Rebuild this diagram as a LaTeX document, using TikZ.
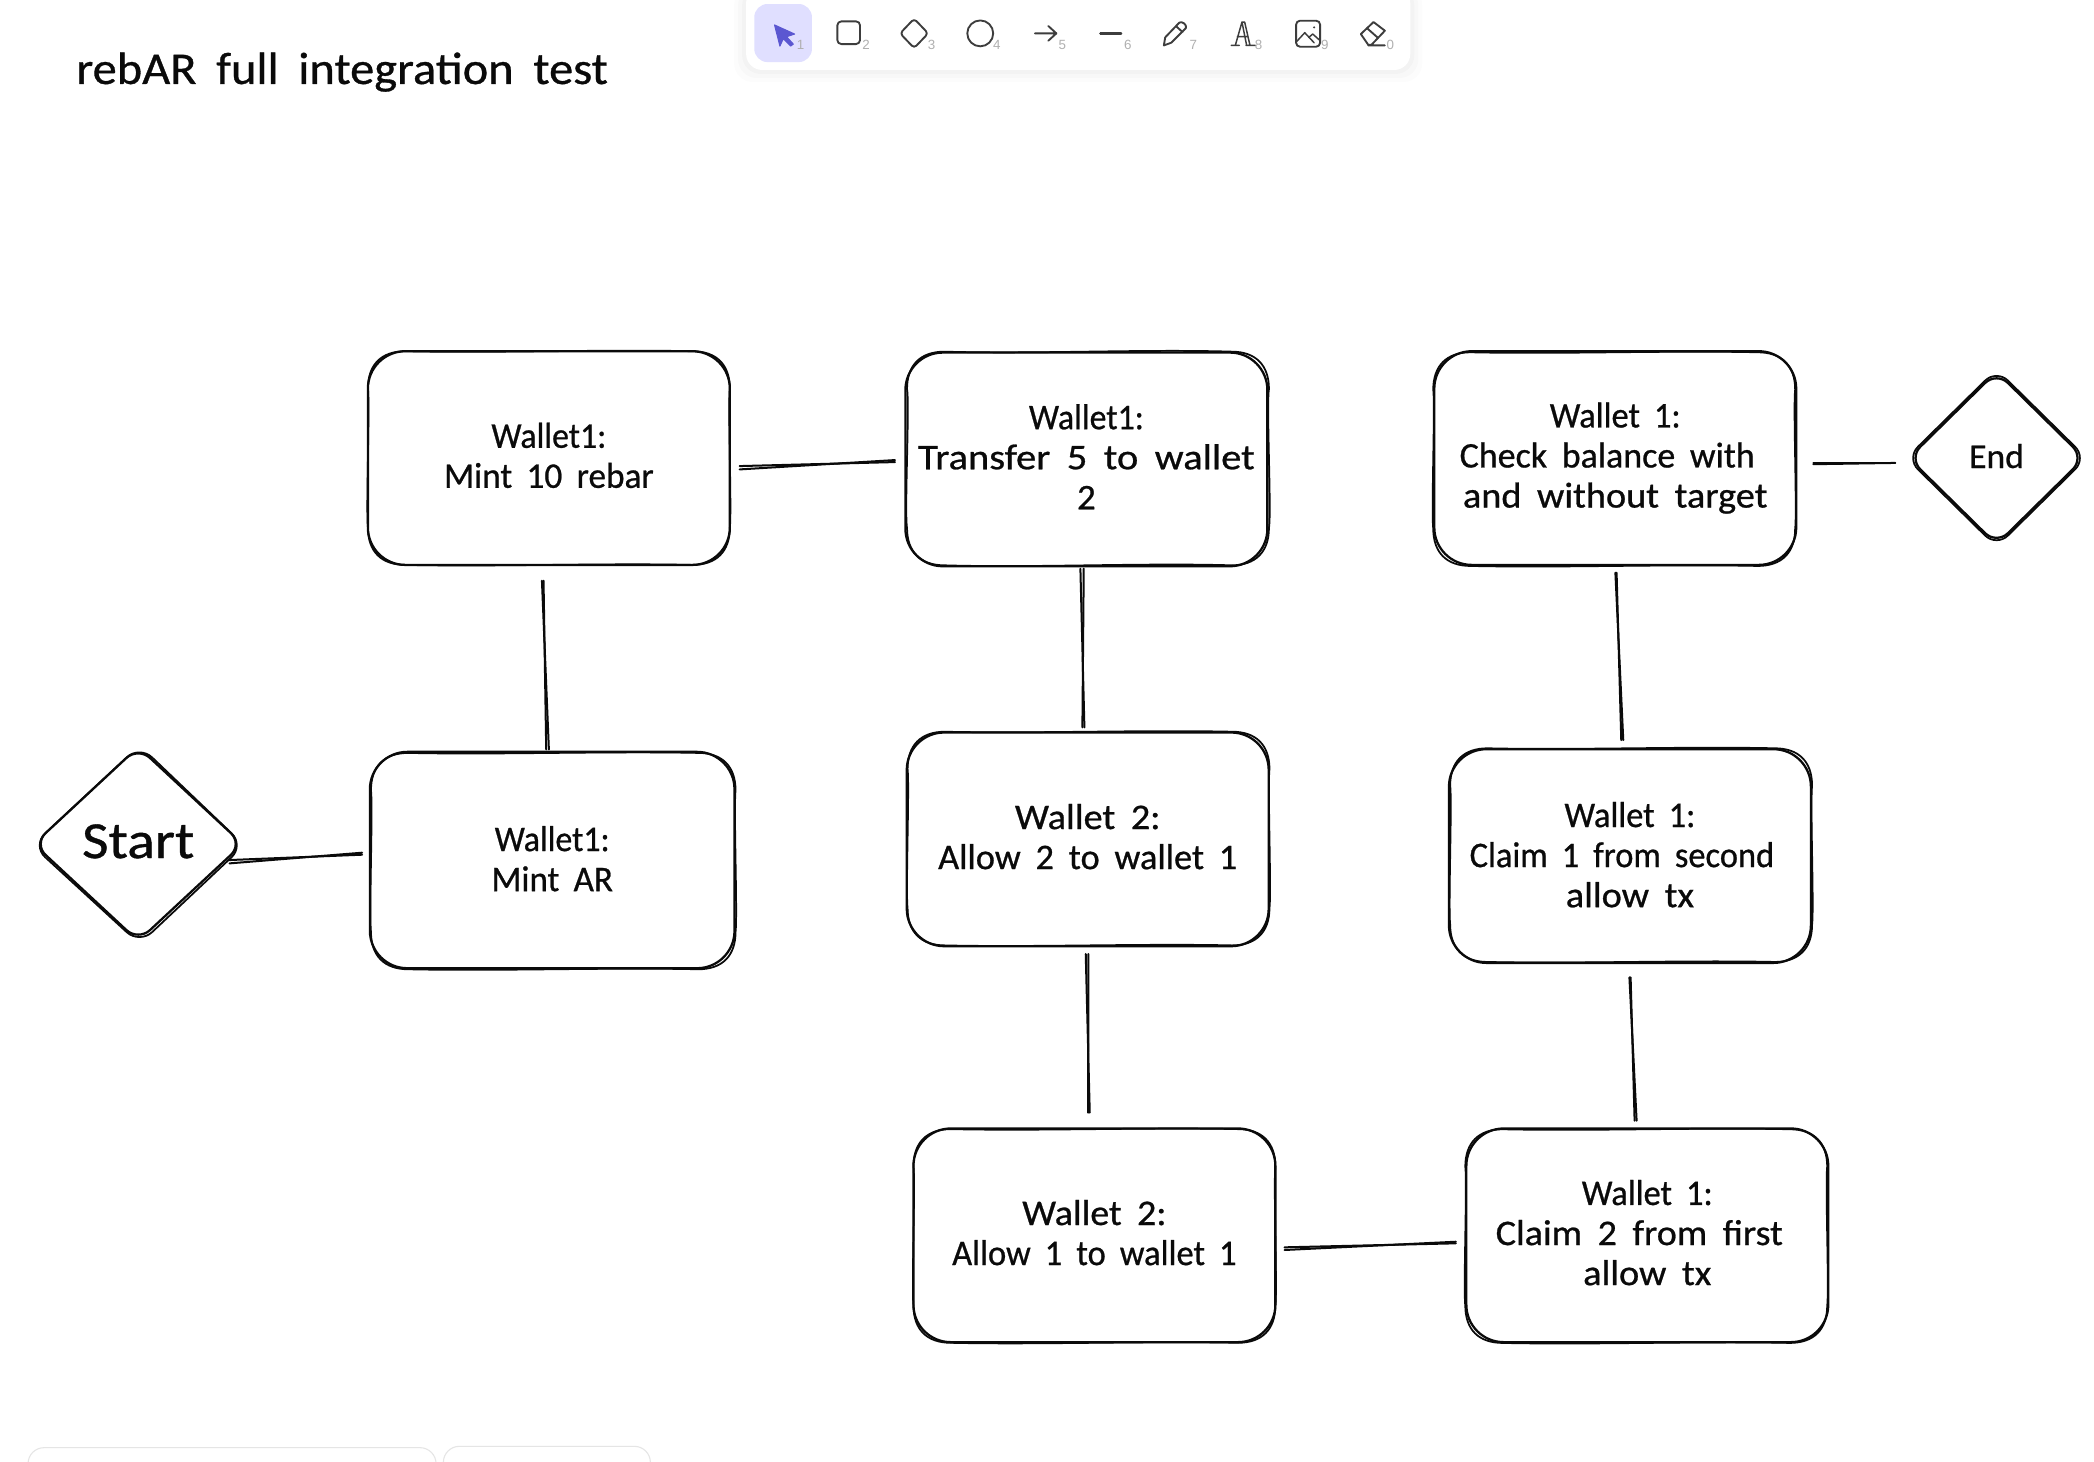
\documentclass[tikz,border=0pt]{standalone}
\usepackage{fontspec}
\usepackage{graphicx}
\setmainfont[WordSpace=1.8,FakeBold=0.7]{Carlito}
\newfontfamily\uifont{Liberation Sans}
\usetikzlibrary{calc,shapes.geometric}
\definecolor{ink}{HTML}{0A0A0A}
\definecolor{icon}{HTML}{3D3D3D}
\definecolor{keynum}{HTML}{B0B0B0}
\definecolor{picked}{HTML}{E0DFFF}
\definecolor{pointer}{HTML}{5B57D1}
\tikzset{
  sketchbox/.style={rectangle,draw=ink,line width=1.7pt,rounded corners=28pt,minimum width=271pt,minimum height=160pt,inner sep=0pt,align=center,font=\fontsize{27}{30}\selectfont,text=ink},
  sketchdiamond/.style={diamond,draw=ink,line width=1.7pt,rounded corners=12pt,inner sep=0pt,align=center,text=ink},
  linkline/.style={draw=ink,line width=1.5pt,line cap=round},
  roughline/.style={draw=ink,line width=1.3pt,line cap=round},
  toolicon/.style={draw=icon,line width=1.4pt,line join=round,line cap=round},
  keylabel/.style={font=\uifont\fontsize{10}{11}\selectfont,text=keynum,inner sep=0pt},
  panelbox/.style={draw=black!10,fill=white,line width=.8pt,rounded corners=12pt},
}
% one line of text, fitted to a width and lifted a little: lift, width, text
\newcommand{\fitline}[3]{\raisebox{#1pt}[\height][\depth]{\resizebox{#2pt}{\height}{#3}}}
% second, wobbling stroke round a box: name, x shift, y shift, bow, half width, half height
\newcommand{\roughbox}[6]{%
  \draw[roughline,shift={($(#1.center)+(#2,#3)$)}]
    (-#5+28,-#6) .. controls (-40,-#6+#4) and (40,-#6-#4) .. (#5-28,-#6)
    .. controls (#5-10,-#6) and (#5,-#6+10) .. (#5,-#6+28)
    .. controls (#5-#4,-40) and (#5+#4,40) .. (#5,#6-28)
    .. controls (#5,#6-10) and (#5-10,#6) .. (#5-28,#6)
    .. controls (40,#6-#4) and (-40,#6+#4) .. (-#5+28,#6)
    .. controls (-#5+10,#6) and (-#5,#6-10) .. (-#5,#6-28)
    .. controls (-#5-#4,40) and (-#5+#4,-40) .. (-#5,-#6+28)
    .. controls (-#5,-#6+10) and (-#5+10,-#6) .. cycle;}
% doubled connector: from node anchor + offset to node anchor + offset, spread of second stroke
\newcommand{\dlink}[5]{%
  \draw[linkline] ($(#1)+(#2)$) -- ($(#3)+(#4)$);
  \draw[linkline] ($(#1)+(#2)+(#5)$) -- ($(#3)+(#4)-0.6*(#5)$);}
\begin{document}
\begin{tikzpicture}[x=1pt,y=-1pt]
\path[use as bounding box,fill=white] (0,0) rectangle (1568,1094.7);
% toolbar
\foreach \g/\o in {9/.012,6/.015,3/.02}{
  \fill[black,opacity=\o,rounded corners=14pt] (558.7-\g,-10) rectangle (1056+\g,52.4+\g);}
\fill[white,rounded corners=12pt] (558.7,-10) rectangle (1056,52.4);
\fill[picked,rounded corners=10pt] (564.8,3) rectangle (608,46.5);
\fill[pointer,draw=pointer,line width=.8pt,line join=round] (580,18.7) -- (595,25.5) -- (589,27.5) -- (594,33) -- (592,34.5) -- (586.5,29) -- (584,34.5) -- cycle;
\draw[toolicon,rounded corners=3pt] (627,16) rectangle (644,33);
\draw[toolicon,rounded corners=2.5pt] (684.5,14) -- (695,25) -- (684.5,36) -- (674,25) -- cycle;
\draw[toolicon] (734,25) circle (9.7pt);
\draw[toolicon] (775,25) -- (791,25) (785,19.5) -- (791,25) -- (785,30.5);
\draw[toolicon,line width=1.8pt] (824,25) -- (839.5,25);
\draw[toolicon] (871.5,34) -- (872.5,28) -- (883,17) .. controls (885,15.5) and (889,18.5) .. (888,21) -- (877,32) -- cycle (880.5,19.5) -- (885.5,24);
\draw[toolicon,line width=1.1pt] (922,34) -- (928,34) (925,34) -- (930,16.5) -- (932,16.5) -- (936,34) (933,34) -- (940,34) (926.5,27.5) -- (934.5,27.5) (930,16.5) -- (933.5,34);
\draw[toolicon,rounded corners=3pt] (970.5,15.5) rectangle (988.5,35);
\draw[toolicon,line width=1.1pt] (971,31) -- (977,24.5) -- (984,32) (980,28) -- (983,25.5) -- (988,30);
\fill[icon] (984,20.5) circle (.9pt);
\draw[toolicon] (1019,25.5) -- (1028.5,16.5) -- (1037,23) -- (1027,33.5) -- (1024.5,33.5) -- cycle (1023.5,21) -- (1032,28.5) (1024.5,34) -- (1037,34);
\node[keylabel] (k1) at (599.5,33.5) {1};
\node[keylabel] (k2) at (648.5,33.5) {2};
\node[keylabel] (k3) at (697.5,33.5) {3};
\node[keylabel] (k4) at (746.5,33.5) {4};
\node[keylabel] (k5) at (795.5,33.5) {5};
\node[keylabel] (k6) at (844.5,33.5) {6};
\node[keylabel] (k7) at (893.5,33.5) {7};
\node[keylabel] (k8) at (942.5,33.5) {8};
\node[keylabel] (k9) at (992,33.5) {9};
\node[keylabel] (k0) at (1041,33.5) {0};
% bottom panels
\draw[panelbox] (21,1110) -- (21,1084) -- (326.5,1084) -- (326.5,1110);
\draw[panelbox] (332,1110) -- (332,1083) -- (487,1083) -- (487,1110);
% title
\node[anchor=west,inner sep=0pt,text=ink,font=\fontsize{34}{40}\selectfont] (title) at (57,54) {\resizebox{398pt}{\height}{rebAR full integration test}};
% boxes
\node[sketchbox] (b1) at (411,343) {\fitline{2}{86}{Wallet1:}\\\fitline{2}{157}{Mint 10 rebar}};
\node[sketchbox] (b2) at (813.5,344) {\fitline{2}{86}{Wallet1:}\\\fitline{2}{252}{Transfer 5 to wallet}\\\fitline{2}{14}{2}};
\node[sketchbox] (b3) at (1209.5,343) {\fitline{0}{98}{Wallet 1:}\\\hspace*{-12pt}\fitline{0}{221}{Check balance with}\\\fitline{0}{228}{and without target}};
\node[sketchbox,minimum width=273pt,minimum height=162pt] (b4) at (413.5,644) {\fitline{1}{86}{Wallet1:}\\\fitline{1}{91}{Mint AR}};
\node[sketchbox] (b5) at (814.5,628.5) {\fitline{2}{109}{Wallet 2:}\\\fitline{2}{224}{Allow 2 to wallet 1}};
\node[sketchbox] (b6) at (1220.5,641) {\fitline{1}{98}{Wallet 1:}\\\hspace*{-12pt}\fitline{1}{228}{Claim 1 from second}\\\fitline{1}{96}{allow tx}};
\node[sketchbox] (b7) at (819.5,925) {\fitline{2}{108}{Wallet 2:}\\\fitline{2}{213}{Allow 1 to wallet 1}};
\node[sketchbox] (b8) at (1233.5,925) {\fitline{2}{98}{Wallet 1:}\\\hspace*{-12pt}\fitline{2}{215}{Claim 2 from first}\\\fitline{2}{96}{allow tx}};
\node[sketchdiamond,minimum width=132pt,minimum height=130pt,font=\fontsize{26}{30}\selectfont] (end) at (1495,343) {\fitline{1.5}{41}{End}};
\node[sketchdiamond,minimum width=157pt,minimum height=146pt,font=\fontsize{39}{44}\selectfont] (start) at (103.5,632) {\fitline{2}{84}{Start}};
% second strokes
\roughbox{b1}{0}{0}{1.5}{135.5}{80}
\roughbox{b2}{1.2}{-.7}{2}{135.5}{80}
\roughbox{b3}{-.8}{.8}{1.5}{135.5}{80}
\roughbox{b4}{.8}{.8}{1.5}{136.5}{81}
\roughbox{b5}{.6}{-.6}{1.5}{135.5}{80}
\roughbox{b6}{.9}{-.7}{1.5}{135.5}{80}
\roughbox{b7}{0}{.5}{1.5}{135.5}{80}
\roughbox{b8}{-.8}{.6}{1.5}{135.5}{80}
\draw[roughline,rounded corners=13pt] ($(start.north)+(1,0)$) -- ($(start.east)+(0,1)$) -- ($(start.south)+(1,1)$) -- ($(start.west)+(0,1)$) -- cycle;
\draw[roughline,rounded corners=12pt] ($(end.north)+(0,-.6)$) -- ($(end.east)+(.6,0)$) -- ($(end.south)+(0,.6)$) -- ($(end.west)+(-.6,0)$) -- cycle;
% connectors
\dlink{start.east}{-11,12}{b4.west}{-5,-4}{0,2.5}
\dlink{b4.north}{-4.5,-1}{b1.south}{-4,11}{2,0}
\dlink{b1.east}{6.5,6}{b2.west}{-7,2}{0,2.5}
\dlink{b2.south}{-4.5,1}{b5.north}{-2.5,-3}{2.5,0}
\dlink{b5.south}{-1.5,5}{b7.north}{-3.5,-11}{2,0}
\dlink{b7.east}{6,9}{b8.west}{-7,6}{0,2}
\dlink{b8.north}{-9.5,-5}{b6.south}{.5,10}{1.5,0}
\dlink{b6.north}{-6.5,-6}{b3.south}{1,5}{1.5,0}
\dlink{b3.east}{12,4}{end.west}{-9,4}{0,.6}
\end{tikzpicture}
\end{document}
